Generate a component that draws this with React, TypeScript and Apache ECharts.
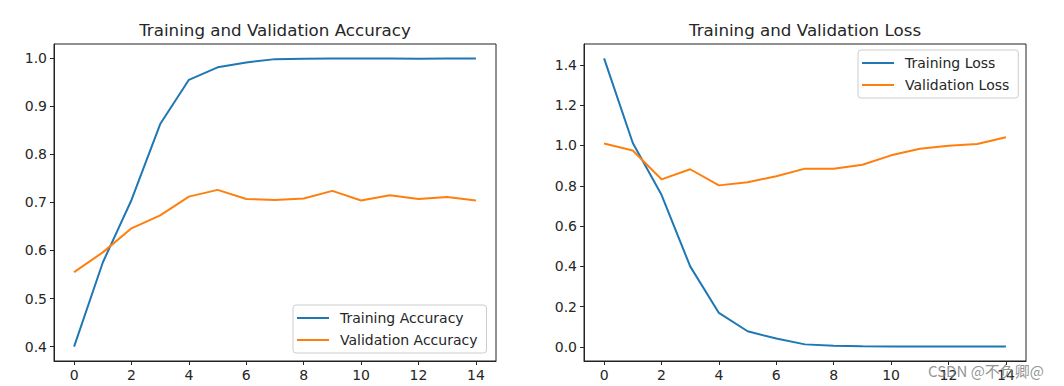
import React, { useEffect, useRef } from "react";
import * as echarts from "echarts";

const epochs = [0, 1, 2, 3, 4, 5, 6, 7, 8, 9, 10, 11, 12, 13, 14];
const trainAcc = [0.400, 0.575, 0.705, 0.863, 0.955, 0.981, 0.991, 0.998, 0.999, 0.9995, 0.9995, 0.9995, 0.999, 0.9995, 0.9995];
const valAcc = [0.555, 0.596, 0.646, 0.673, 0.712, 0.726, 0.707, 0.705, 0.708, 0.724, 0.704, 0.715, 0.707, 0.711, 0.704];
const trainLoss = [1.432, 1.012, 0.755, 0.400, 0.169, 0.078, 0.042, 0.013, 0.006, 0.004, 0.003, 0.003, 0.002, 0.002, 0.002];
const valLoss = [1.010, 0.975, 0.832, 0.882, 0.802, 0.818, 0.847, 0.885, 0.884, 0.904, 0.951, 0.984, 0.999, 1.007, 1.041];
const xTicks = [0, 2, 4, 6, 8, 10, 12, 14];
const accTicks = [0.4, 0.5, 0.6, 0.7, 0.8, 0.9, 1.0];
const lossTicks = [0.0, 0.2, 0.4, 0.6, 0.8, 1.0, 1.2, 1.4];
const titles = ["Training and Validation Accuracy", "Training and Validation Loss"];
const accNames = ["Training Accuracy", "Validation Accuracy"];
const lossNames = ["Training Loss", "Validation Loss"];
const watermark = "CSDN @不负卿@";

const BLUE = "#1f77b4";
const ORANGE = "#ff7f0e";
const TXT = "#262626";
const FONT = "DejaVu Sans";

function padRange(arrs: number[][]) {
  const all = arrs.flat();
  const lo = Math.min(...all);
  const hi = Math.max(...all);
  const m = (hi - lo) * 0.05;
  return [lo - m, hi + m];
}

export default function App() {
  const ref = useRef<HTMLDivElement>(null);
  useEffect(() => {
    if (!ref.current) return;
    const chart = echarts.init(ref.current, undefined, { renderer: "svg" });
    const xr = padRange([epochs]);
    const accR = padRange([trainAcc, valAcc]);
    const lossR = padRange([trainLoss, valLoss]);

    const xAxisBase = (gi: number) => ({
      type: "value",
      gridIndex: gi,
      min: xr[0],
      max: xr[1],
      axisLine: { show: true, onZero: false, lineStyle: { color: "#222", width: 1 } },
      axisTick: { show: true, length: 4, customValues: xTicks, lineStyle: { color: TXT } },
      axisLabel: {
        customValues: xTicks,
        margin: 7,
        fontSize: 14,
        fontFamily: FONT,
        color: TXT,
      },
      splitLine: { show: false },
    });
    const yAxisBase = (gi: number, r: number[], ticks: number[]) => ({
      type: "value",
      gridIndex: gi,
      min: r[0],
      max: r[1],
      axisLine: { show: true, onZero: false, lineStyle: { color: "#222", width: 1 } },
      axisTick: { show: true, length: 4, customValues: ticks, lineStyle: { color: TXT } },
      axisLabel: {
        customValues: ticks,
        margin: 7,
        fontSize: 14,
        fontFamily: FONT,
        color: TXT,
        formatter: (v: number) => v.toFixed(1),
      },
      splitLine: { show: false },
    });
    const legendBase = {
      orient: "vertical",
      icon: "rect",
      itemWidth: 32,
      itemHeight: 2,
      itemGap: 6,
      borderColor: "#cccccc",
      borderWidth: 1,
      borderRadius: 3,
      backgroundColor: "rgba(255,255,255,0.8)",
      textStyle: {
        fontSize: 14,
        fontFamily: FONT,
        color: TXT,
        lineHeight: 16,
        padding: [0, 0, 0, 6],
      },
    };
    const lineS = (name: string, data: number[], color: string, idx: number) => ({
      type: "line",
      name,
      xAxisIndex: idx,
      yAxisIndex: idx,
      data: epochs.map((e, i) => [e, data[i]]),
      showSymbol: false,
      symbol: "none",
      color,
      lineStyle: { color, width: 2 },
      z: 3,
    });

    chart.setOption({
      animation: false,
      backgroundColor: "#ffffff",
      title: [
        {
          text: titles[0],
          left: 275,
          top: 21,
          textAlign: "center",
          padding: 0,
          textStyle: { fontSize: 16.7, fontWeight: "normal", fontFamily: FONT, color: TXT },
        },
        {
          text: titles[1],
          left: 805,
          top: 21,
          textAlign: "center",
          padding: 0,
          textStyle: { fontSize: 16.7, fontWeight: "normal", fontFamily: FONT, color: TXT },
        },
      ],
      grid: [
        { left: 54, top: 44, width: 442, height: 317, show: true, borderColor: "#222", borderWidth: 1, backgroundColor: "transparent" },
        { left: 584, top: 44, width: 442, height: 317, show: true, borderColor: "#222", borderWidth: 1, backgroundColor: "transparent" },
      ],
      xAxis: [xAxisBase(0), xAxisBase(1)],
      yAxis: [yAxisBase(0, accR, accTicks), yAxisBase(1, lossR, lossTicks)],
      legend: [
        { ...legendBase, data: accNames, left: 293, top: 305, padding: [5, 9, 5, 4] },
        { ...legendBase, data: lossNames, left: 858, top: 50, padding: [5, 9, 5, 4] },
      ],
      series: [
        lineS(accNames[0], trainAcc, BLUE, 0),
        lineS(accNames[1], valAcc, ORANGE, 0),
        lineS(lossNames[0], trainLoss, BLUE, 1),
        lineS(lossNames[1], valLoss, ORANGE, 1),
      ],
      graphic: [
        {
          type: "text",
          x: 928,
          y: 370,
          z: 100,
          style: {
            text: watermark,
            fontSize: 15,
            fontFamily: "Noto Sans CJK SC",
            fill: "rgba(120,120,120,0.8)",
            verticalAlign: "middle",
          },
        },
      ],
    });
    return () => chart.dispose();
  }, []);
  return (
    <div
      ref={ref}
      style={{ position: "fixed", left: 0, top: 0, width: 1064, height: 386, background: "#fff" }}
    />
  );
}
